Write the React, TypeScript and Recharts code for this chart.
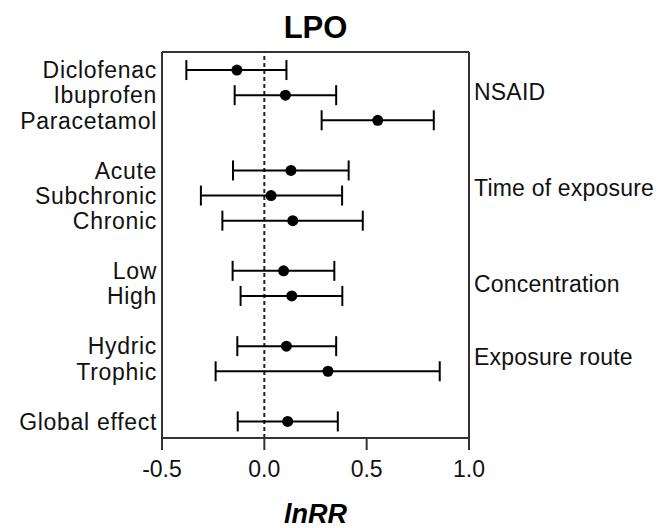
import React from "react";
import { ScatterChart, Scatter, XAxis, YAxis, ErrorBar, ReferenceLine, Label } from "recharts";

const labels = ["Diclofenac", "Ibuprofen", "Paracetamol", "Acute", "Subchronic", "Chronic", "Low", "High", "Hydric", "Trophic", "Global effect"];
const rowPos = [0, 1, 2, 4, 5, 6, 8, 9, 11, 12, 14];
const est = [-0.134, 0.103, 0.554, 0.13, 0.033, 0.139, 0.094, 0.134, 0.108, 0.311, 0.114];
const lo = [-0.381, -0.145, 0.28, -0.153, -0.31, -0.205, -0.155, -0.116, -0.132, -0.238, -0.13];
const hi = [0.108, 0.351, 0.828, 0.412, 0.38, 0.481, 0.342, 0.381, 0.351, 0.857, 0.359];
const groups = ["NSAID", "Time of exposure", "Concentration", "Exposure route"];
const groupPos = [0.88, 4.68, 8.52, 11.44];
const xTicks = [-0.5, 0, 0.5, 1.0];

const rows = labels.map((name, i) => ({
  name,
  y: rowPos[i],
  x: est[i],
  err: [est[i] - lo[i], hi[i] - est[i]],
}));

const FONT = "Arial, 'Liberation Sans', Helvetica, sans-serif";
const AX = "#333";

const LeftTick = (props: any) => {
  const { x, y, payload } = props;
  const i = rowPos.indexOf(payload.value);
  return (
    <text x={x} y={y} dy="0.36em" textAnchor="end" fontFamily={FONT} fontSize={23} letterSpacing={0.7} fill="#111">
      {i >= 0 ? labels[i] : ""}
    </text>
  );
};

const RightTick = (props: any) => {
  const { x, y, payload } = props;
  const i = groupPos.indexOf(payload.value);
  return (
    <text x={x} y={y} dy="0.36em" textAnchor="start" fontFamily={FONT} fontSize={23} letterSpacing={0.2} fill="#111">
      {i >= 0 ? groups[i] : ""}
    </text>
  );
};

const Dot = (props: any) => <circle cx={props.cx} cy={props.cy} r={5.5} fill="#000" />;

export default function App() {
  return (
    <div style={{ position: "absolute", left: 0, top: 0, width: 672, height: 528, background: "#fff" }}>
      <div
        style={{
          position: "absolute",
          left: 162,
          width: 307,
          top: 8,
          textAlign: "center",
          fontFamily: FONT,
          fontWeight: "bold",
          fontSize: 31,
          lineHeight: "40px",
          color: "#000",
        }}
      >
        LPO
      </div>
      <ScatterChart width={672} height={528} margin={{ top: 52, right: 0, bottom: 0, left: 0 }}>
        <XAxis
          xAxisId="bottom"
          type="number"
          dataKey="x"
          domain={[-0.5, 1]}
          ticks={xTicks}
          tickFormatter={(v: number) => v.toFixed(1)}
          height={90}
          tickSize={12}
          tickMargin={11}
          axisLine={{ stroke: AX, strokeWidth: 2 }}
          tickLine={{ stroke: AX, strokeWidth: 2 }}
          tick={{ fontSize: 23, fill: "#111", fontFamily: FONT }}
          interval={0}
        >
          <Label
            value="lnRR"
            position="insideBottom"
            offset={5}
            style={{ fontFamily: FONT, fontSize: 27, fontWeight: "bold", fontStyle: "italic", fill: "#000" }}
          />
        </XAxis>
        <YAxis
          yAxisId="left"
          type="number"
          dataKey="y"
          domain={[-0.72, 14.66]}
          reversed
          ticks={rowPos}
          interval={0}
          width={162}
          tickSize={0}
          tickMargin={5}
          tickLine={false}
          axisLine={{ stroke: AX, strokeWidth: 2 }}
          tick={<LeftTick />}
        />
        <YAxis
          yAxisId="right"
          orientation="right"
          type="number"
          dataKey="y"
          domain={[-0.72, 14.66]}
          reversed
          ticks={groupPos}
          interval={0}
          width={203}
          tickSize={0}
          tickMargin={5}
          tickLine={false}
          axisLine={{ stroke: AX, strokeWidth: 2 }}
          tick={<RightTick />}
          allowDataOverflow
        />
        <ReferenceLine xAxisId="bottom" yAxisId="left" y={-0.72} stroke={AX} strokeWidth={2} ifOverflow="extendDomain" />
        <ReferenceLine xAxisId="bottom" yAxisId="left" x={0} stroke="#222" strokeWidth={2} strokeDasharray="4 3" />
        <Scatter xAxisId="bottom" yAxisId="left" data={rows} shape={<Dot />} isAnimationActive={false}>
          <ErrorBar dataKey="err" direction="x" width={10} stroke="#000" strokeWidth={2} isAnimationActive={false} />
        </Scatter>
      </ScatterChart>
    </div>
  );
}
